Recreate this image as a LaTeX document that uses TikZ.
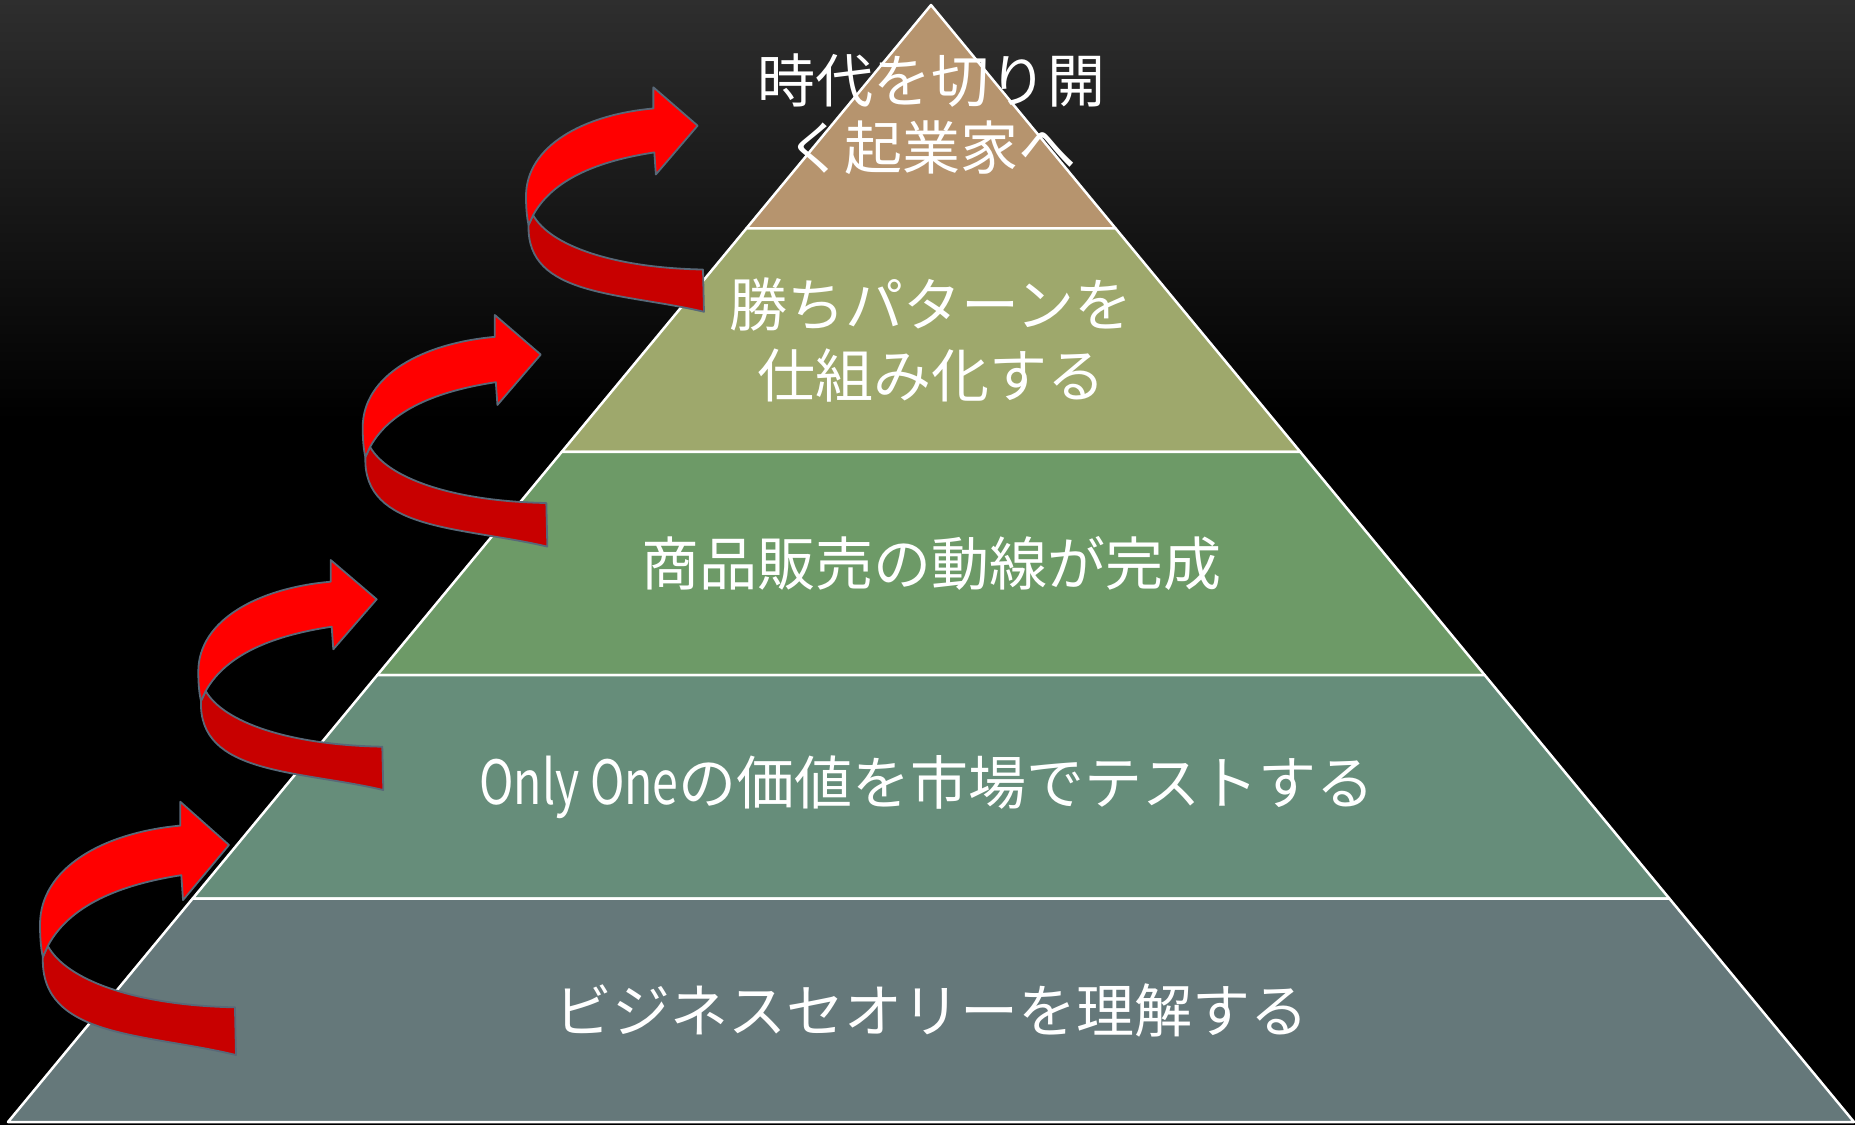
\documentclass[tikz,border=0pt]{standalone}
\usepackage{fontspec}
\usepackage{graphicx}
\setmainfont{Noto Sans CJK JP}
\usetikzlibrary{calc}
\definecolor{bgtop}{RGB}{46,46,46}
\definecolor{tierA}{RGB}{182,148,110}
\definecolor{tierB}{RGB}{158,168,108}
\definecolor{tierC}{RGB}{109,154,103}
\definecolor{tierD}{RGB}{102,141,122}
\definecolor{tierE}{RGB}{101,120,122}
\definecolor{ribbonhi}{RGB}{255,0,0}
\definecolor{ribbonlo}{RGB}{200,0,0}
\definecolor{ribbonedge}{RGB}{88,104,120}
\begin{document}
\begin{tikzpicture}[x=1pt,y=-1pt,
  tierbox/.style={draw=white,line width=2.5pt,line join=round},
  tiertext/.style={text=white,align=center,inner sep=0pt,font=\fontsize{58}{70}\selectfont},
  ribbon/.style={draw=ribbonedge,line width=1.8pt,line join=round},
  ribbonarrow/.pic={
    \filldraw[ribbon,fill=ribbonlo]
      (7.4,131) .. controls (25,162) and (90,185) .. (184,186.7)
      -- (185,230)
      .. controls (100,210) and (0,215) .. (2.7,141)
      -- cycle;
    \filldraw[ribbon,fill=ribbonhi]
      (132.4,0) -- (178.4,39.3) -- (135,89.3) -- (133.4,66.7)
      .. controls (85,74) and (30,90) .. (7.4,131)
      -- (2.7,141)
      .. controls (0.5,132) and (0,120) .. (0,111.7)
      .. controls (0,60) and (60,28) .. (132.4,21.7)
      -- cycle;
  }
]
\useasboundingbox (0,0) rectangle (1855,1125);
\fill[black] (0,0) rectangle (1855,1125);
\shade[top color=bgtop,bottom color=black] (0,0) rectangle (1855,420);

\coordinate (A) at (931,5);
\coordinate (BL) at (8,1122);
\coordinate (BR) at (1854,1122);
\coordinate (L1) at ($(A)!0.2!(BL)$);
\coordinate (R1) at ($(A)!0.2!(BR)$);
\coordinate (L2) at ($(A)!0.4!(BL)$);
\coordinate (R2) at ($(A)!0.4!(BR)$);
\coordinate (L3) at ($(A)!0.6!(BL)$);
\coordinate (R3) at ($(A)!0.6!(BR)$);
\coordinate (L4) at ($(A)!0.8!(BL)$);
\coordinate (R4) at ($(A)!0.8!(BR)$);

\filldraw[tierbox,fill=tierA] (A) -- (R1) -- (L1) -- cycle;
\filldraw[tierbox,fill=tierB] (L1) -- (R1) -- (R2) -- (L2) -- cycle;
\filldraw[tierbox,fill=tierC] (L2) -- (R2) -- (R3) -- (L3) -- cycle;
\filldraw[tierbox,fill=tierD] (L3) -- (R3) -- (R4) -- (L4) -- cycle;
\filldraw[tierbox,fill=tierE] (L4) -- (R4) -- (BR) -- (BL) -- cycle;

\node[tiertext,font=\fontsize{58}{67}\selectfont] (t1) at (931,114) {時代を切り開\\く起業家へ};
\node[tiertext,font=\fontsize{58}{71}\selectfont] (t2) at (931,340) {勝ちパターンを\\仕組み化する};
\node[tiertext] (t3) at (931,563) {商品販売の動線が完成};
\node[tiertext] (t4) at (927,787) {\scalebox{0.8}[1.05]{Only One}の価値を市場でテストする};
\node[tiertext] (t5) at (931,1010) {ビジネスセオリーを理解する};

\pic[xscale=1.0595,yscale=1.1013] at (40,801.7) {ribbonarrow};
\pic at (198.3,560) {ribbonarrow};
\pic[xscale=0.998,yscale=1.007] at (362.7,315) {ribbonarrow};
\pic[xscale=0.962,yscale=0.976] at (526,87.3) {ribbonarrow};
\end{tikzpicture}
\end{document}
